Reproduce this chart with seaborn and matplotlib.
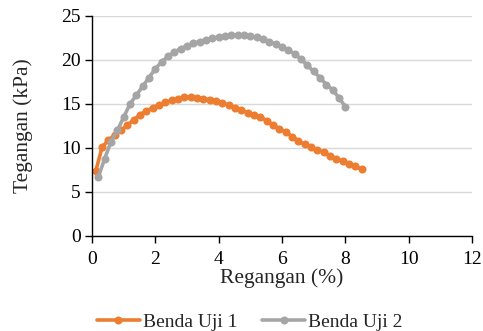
import matplotlib
matplotlib.use("Agg")
import matplotlib.pyplot as plt
import seaborn as sns
import pandas as pd

# Strain (%) and stress (kPa) readings for each specimen
strain_1 = [0.12, 0.32, 0.52, 0.72, 0.92, 1.12, 1.32, 1.52, 1.72, 1.92,
            2.12, 2.32, 2.52, 2.72, 2.92, 3.12, 3.32, 3.52, 3.72, 3.92,
            4.12, 4.32, 4.52, 4.72, 4.92, 5.12, 5.32, 5.52, 5.72, 5.92,
            6.12, 6.32, 6.52, 6.72, 6.92, 7.12, 7.32, 7.52, 7.72, 7.92,
            8.12, 8.32, 8.52]
stress_1 = [7.4, 10.1, 10.9, 11.5, 12.0, 12.6, 13.2, 13.8, 14.2, 14.6,
            14.9, 15.2, 15.4, 15.6, 15.8, 15.8, 15.7, 15.6, 15.5, 15.3,
            15.1, 14.9, 14.6, 14.3, 14.0, 13.8, 13.5, 13.1, 12.6, 12.2,
            11.8, 11.3, 10.8, 10.4, 10.1, 9.8, 9.5, 9.1, 8.8, 8.5,
            8.2, 7.9, 7.6]

strain_2 = [0.2, 0.4, 0.6, 0.8, 1.0, 1.2, 1.4, 1.6, 1.8, 2.0,
            2.2, 2.4, 2.6, 2.8, 3.0, 3.2, 3.4, 3.6, 3.8, 4.0,
            4.2, 4.4, 4.6, 4.8, 5.0, 5.2, 5.4, 5.6, 5.8, 6.0,
            6.2, 6.4, 6.6, 6.8, 7.0, 7.2, 7.4, 7.6, 7.8, 8.0]
stress_2 = [6.7, 8.8, 10.7, 12.0, 13.5, 15.0, 16.0, 17.0, 18.0, 19.0,
            19.8, 20.4, 20.9, 21.3, 21.6, 21.9, 22.1, 22.3, 22.5, 22.6,
            22.7, 22.8, 22.85, 22.8, 22.7, 22.6, 22.4, 22.1, 21.8, 21.5,
            21.1, 20.7, 20.1, 19.4, 18.7, 18.0, 17.2, 16.6, 15.7, 14.7]

labels = ["Benda Uji 1", "Benda Uji 2"]
colors = ["#ED7D31", "#A5A5A5"]

df = pd.concat([
    pd.DataFrame({"strain": strain_1, "stress": stress_1, "sample": labels[0]}),
    pd.DataFrame({"strain": strain_2, "stress": stress_2, "sample": labels[1]}),
])

sns.set_style("white")
plt.rcParams["font.family"] = ["Liberation Serif", "DejaVu Serif"]

fig = plt.figure(figsize=(4.83, 3.31), dpi=100)
ax = fig.add_axes([92 / 483, 1 - 236 / 331, 380 / 483, 220 / 331])

sns.lineplot(data=df, x="strain", y="stress", hue="sample",
             palette=dict(zip(labels, colors)), marker="o", markersize=5.8,
             markeredgewidth=0, linewidth=2.6, sort=False, ax=ax, legend=True)

ax.set_xlim(0, 12)
ax.set_ylim(0, 25)
ax.set_xticks(range(0, 13, 2))
ax.set_yticks(range(0, 26, 5))
ax.yaxis.grid(True, color="#D9D9D9", linewidth=1.0)
ax.set_axisbelow(True)
for side in ["top", "right"]:
    ax.spines[side].set_visible(False)
for side in ["left", "bottom"]:
    ax.spines[side].set_color("#000000")
    ax.spines[side].set_linewidth(1.0)
ax.tick_params(axis="both", direction="out", length=5, width=1.0,
               labelsize=14, colors="#000000", left=True, bottom=True)
ax.tick_params(axis="x", pad=6)
ax.tick_params(axis="y", pad=3)
ax.set_xlabel("Regangan (%)", fontsize=15.5, labelpad=0)
ax.set_ylabel("Tegangan (kPa)", fontsize=15.5, labelpad=20)

handles, hl = ax.get_legend_handles_labels()
ax.legend(handles, hl, loc="upper center", bbox_to_anchor=(0.415, -0.315),
          ncol=2, frameon=False, fontsize=14, handlelength=2.2,
          columnspacing=1.3, handletextpad=0.15, borderaxespad=0)

fig.savefig("out.png", dpi=100)
